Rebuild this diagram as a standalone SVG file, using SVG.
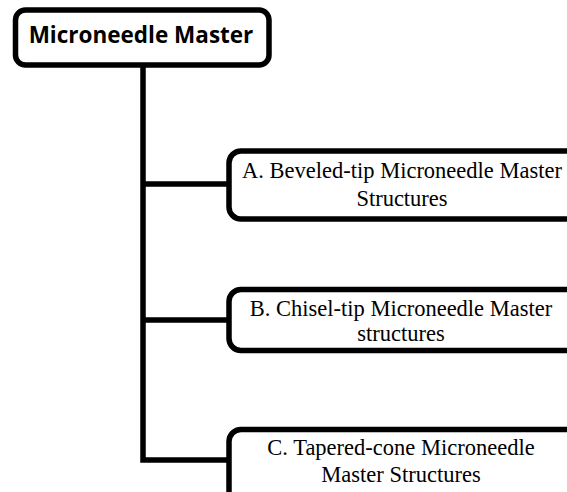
<svg xmlns="http://www.w3.org/2000/svg" width="567" height="492" viewBox="0 0 567 492">
<style>
.box{fill:#fff;stroke:#000;stroke-width:5.5}
.ln{fill:none;stroke:#000;stroke-width:5.5;stroke-linecap:butt;stroke-linejoin:miter}
.t{font-family:"Liberation Serif","Times New Roman",serif;font-size:22.5px;fill:#000;text-anchor:middle}
.h{font-family:"Open Sans","Liberation Sans",sans-serif;font-weight:bold;font-size:22.5px;fill:#000;text-anchor:middle}
</style>
<rect width="567" height="492" fill="#fff"/>
<g id="connectors">
<polyline class="ln" points="143,65 143,460 229,460"/>
<line class="ln" x1="143" y1="184" x2="229" y2="184"/>
<line class="ln" x1="143" y1="320" x2="229" y2="320"/>
</g>
<g id="root">
<rect class="box" x="15.5" y="10" width="253.5" height="55" rx="10"/>
<text class="h" x="141" y="43">Microneedle Master</text>
</g>
<g id="nodeA">
<rect class="box" x="229" y="151" width="350" height="68" rx="12"/>
<text class="t" x="402" y="178">A. Beveled-tip Microneedle Master</text>
<text class="t" x="402" y="205.5">Structures</text>
</g>
<g id="nodeB">
<rect class="box" x="229" y="289.5" width="350" height="61" rx="12"/>
<text class="t" x="401" y="316">B. Chisel-tip Microneedle Master</text>
<text class="t" x="401" y="341">structures</text>
</g>
<g id="nodeC">
<rect class="box" x="229" y="429.5" width="350" height="80" rx="12"/>
<text class="t" x="401" y="455">C. Tapered-cone Microneedle</text>
<text class="t" x="401" y="482">Master Structures</text>
</g>
</svg>
